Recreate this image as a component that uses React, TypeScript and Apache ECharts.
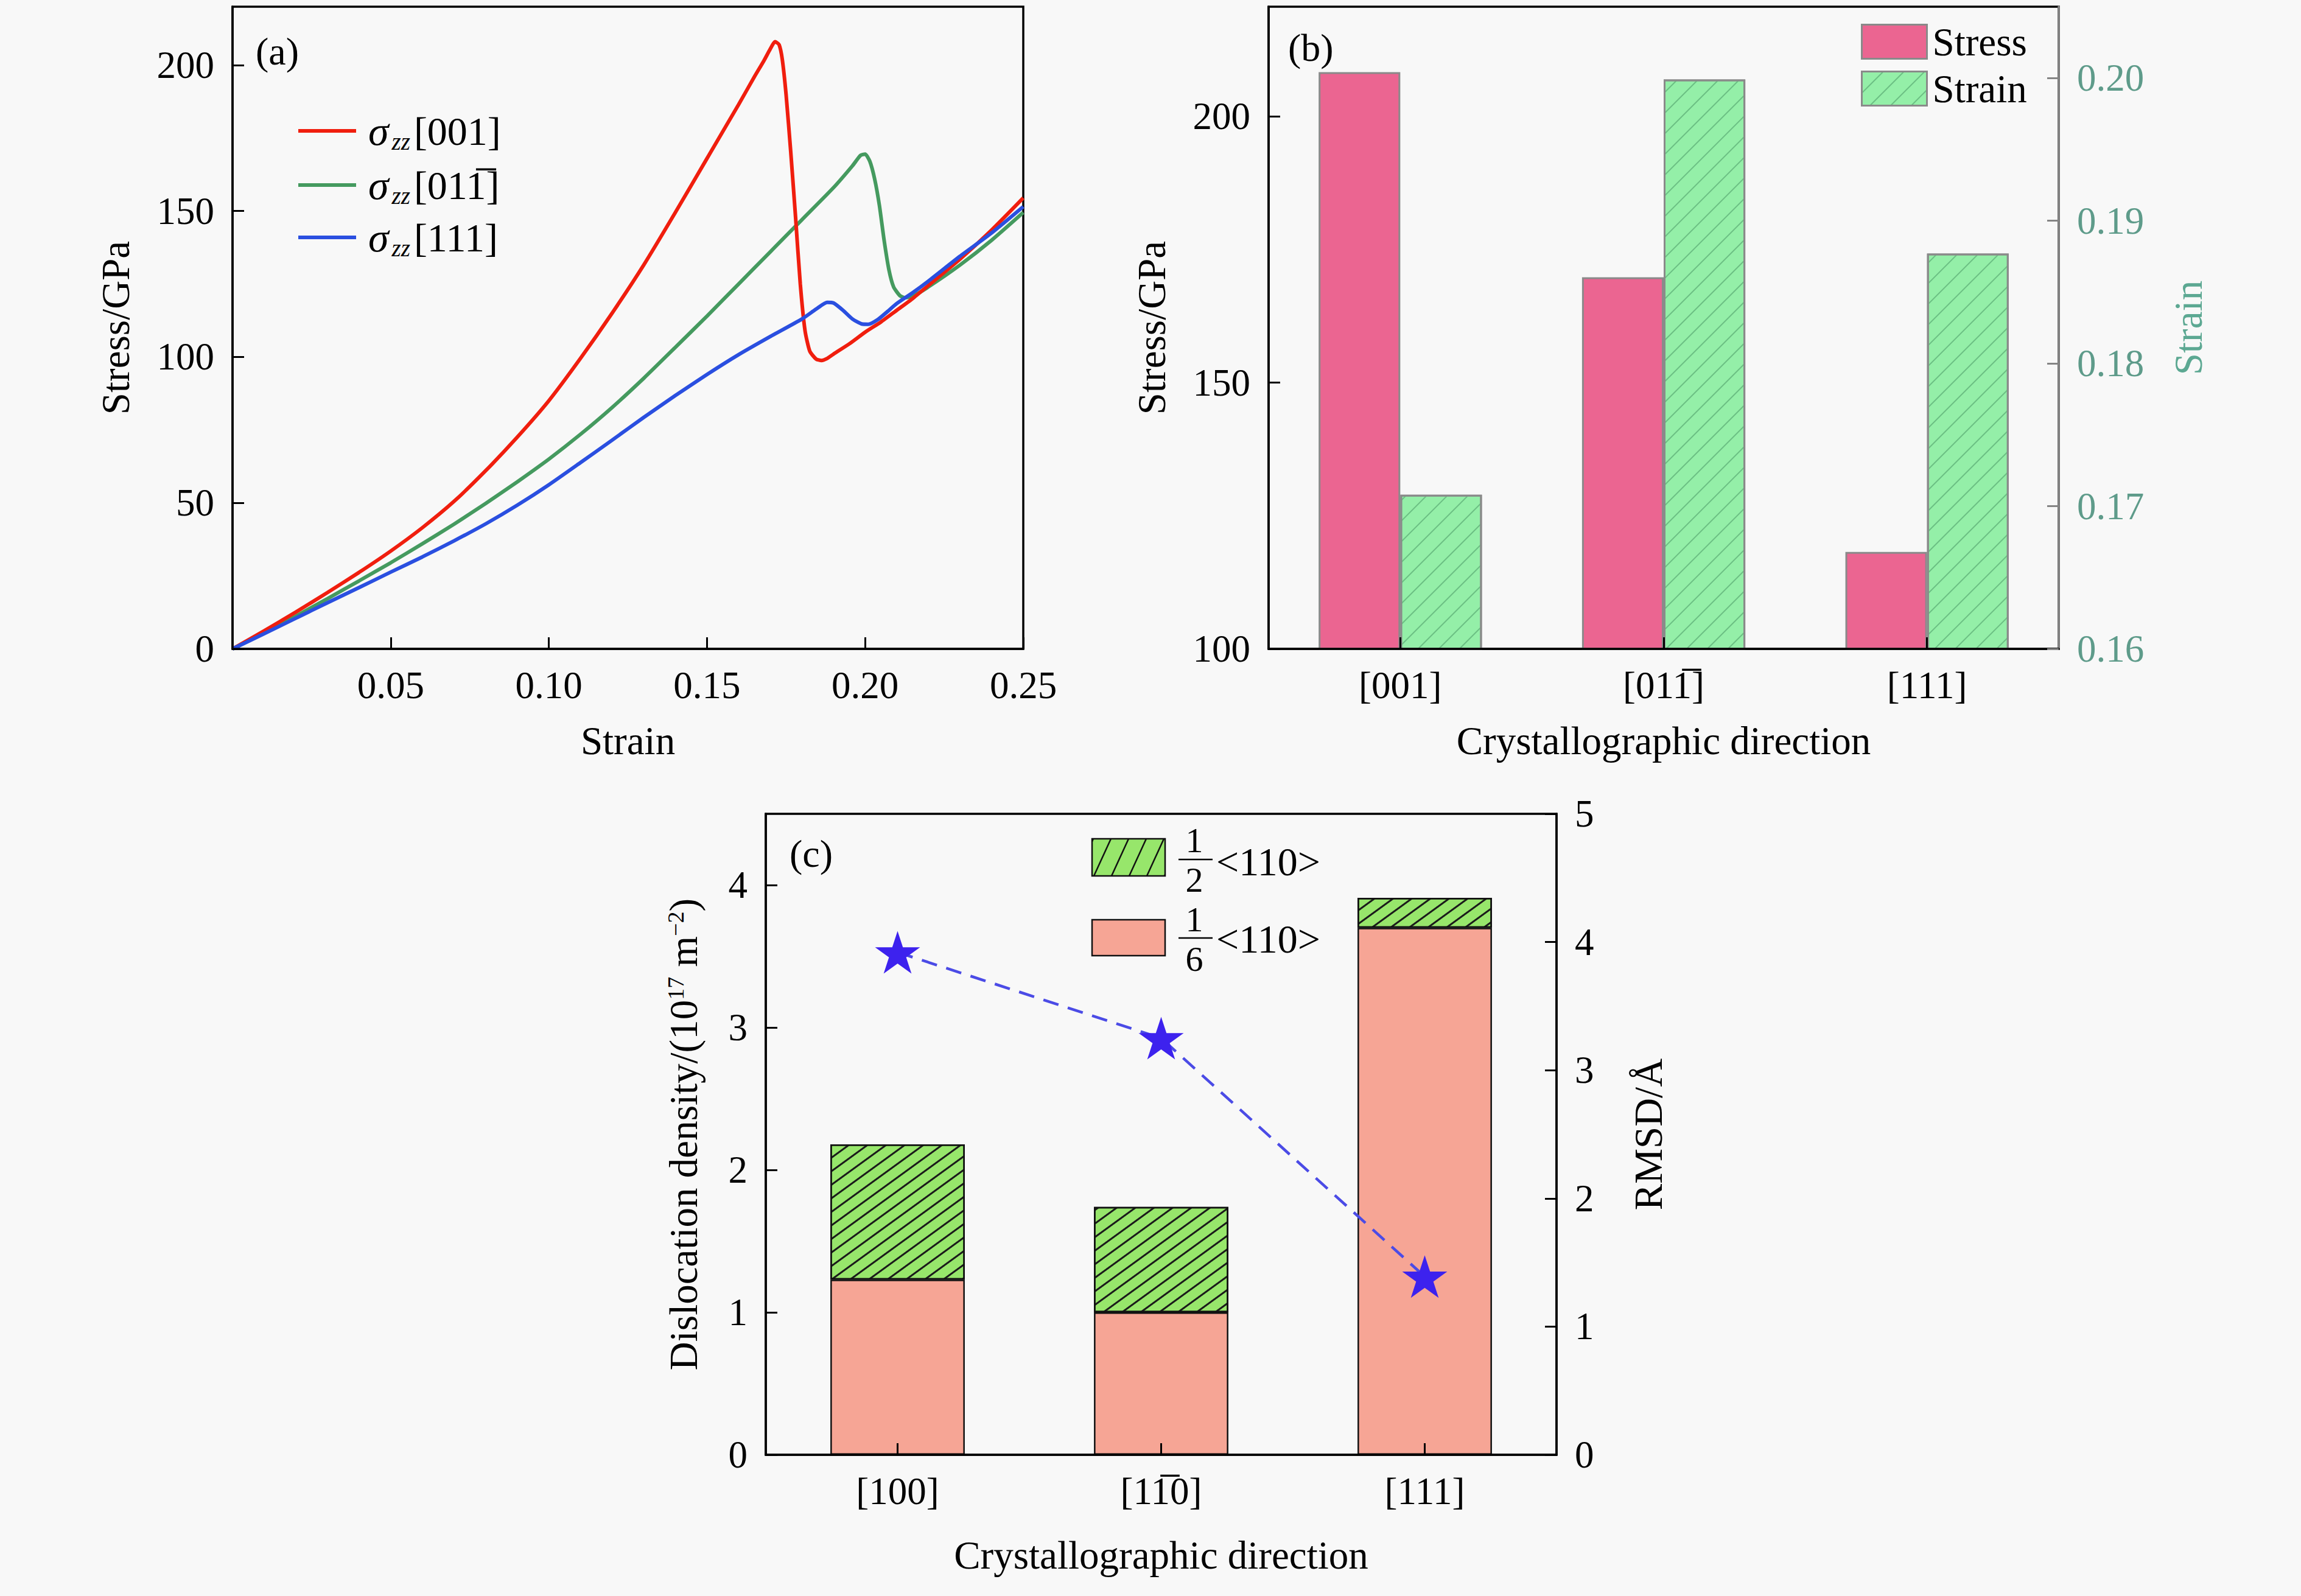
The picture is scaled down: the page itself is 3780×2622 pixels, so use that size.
import React, { useEffect, useRef } from "react";
import * as echarts from "echarts";

// ---------- Panel (a): stress-strain curves ----------
const curve001: [number, number][] = [
  [0, 0], [0.01, 6.2], [0.02, 12.6], [0.03, 19.3], [0.04, 26.2], [0.05, 33.5],
  [0.06, 41.5], [0.07, 50.5], [0.08, 61], [0.09, 72.5], [0.1, 85], [0.11, 99.5],
  [0.12, 115], [0.13, 131.5], [0.14, 149.5], [0.15, 168], [0.16, 186.5], [0.165, 196],
  [0.168, 201.5], [0.17, 205.5], [0.1715, 208], [0.1728, 207], [0.1738, 202], [0.175, 190],
  [0.1765, 170], [0.178, 148], [0.1795, 125], [0.181, 109], [0.1825, 102], [0.1845, 99.3],
  [0.1862, 98.8], [0.188, 99.5], [0.19, 101], [0.195, 104.5], [0.2, 108.5], [0.205, 112],
  [0.21, 116], [0.215, 120], [0.22, 124.5], [0.23, 133.5], [0.24, 143.5], [0.25, 154.5],
];
const curve011: [number, number][] = [
  [0, 0], [0.01, 5.5], [0.02, 11.2], [0.03, 17.2], [0.04, 23.3], [0.05, 29.5],
  [0.06, 36], [0.07, 42.7], [0.08, 49.8], [0.09, 57.2], [0.1, 65], [0.11, 73.5],
  [0.12, 82.7], [0.13, 92.7], [0.14, 103.3], [0.15, 114], [0.16, 125], [0.17, 136],
  [0.18, 147], [0.19, 158], [0.196, 165.5], [0.1985, 169], [0.2, 169.5], [0.2015, 167],
  [0.203, 161], [0.2045, 152], [0.206, 140], [0.2075, 130], [0.209, 124], [0.211, 121],
  [0.2125, 120.3], [0.215, 120.8], [0.22, 124], [0.23, 131.5], [0.24, 140], [0.25, 149.5],
];
const curve111: [number, number][] = [
  [0, 0], [0.01, 5.2], [0.02, 10.5], [0.03, 15.8], [0.04, 21], [0.05, 26.3],
  [0.06, 31.5], [0.07, 37], [0.08, 42.8], [0.09, 49.2], [0.1, 56.2], [0.11, 63.8],
  [0.12, 71.5], [0.13, 79.3], [0.14, 86.8], [0.15, 94], [0.16, 100.8], [0.17, 107],
  [0.18, 113], [0.185, 116.8], [0.188, 118.7], [0.19, 118.5], [0.193, 116], [0.196, 113],
  [0.199, 111.3], [0.201, 111.2], [0.204, 112.8], [0.207, 115.5], [0.21, 118.3], [0.215, 122],
  [0.22, 126], [0.23, 134.5], [0.24, 142.5], [0.25, 151.5],
];
const curveLabels = ["[001]", "[011\u0305]", "[111]"];
const curveColors = ["#F01E0E", "#459A5F", "#2A4FE0"];

// ---------- Panel (b): peak stress / strain ----------
const dirB = ["[001]", "[011\u0305]", "[111]"];
const stressB = [208.3, 169.8, 118.2];
const strainB = [0.1708, 0.1999, 0.1877];

// ---------- Panel (c): dislocation density / RMSD ----------
const dirC = ["[100]", "[11\u03050]", "[111]"];
const sixthC = [1.23, 1.0, 3.7];
const halfC = [0.95, 0.74, 0.21];
const rmsdC = [3.92, 3.25, 1.39];

const FONT = "'Liberation Serif', 'Times New Roman', serif";
const TICK_FS = 63;
const NAME_FS = 65;
const STAR =
  "path://M0,-10L2.245,-3.09L9.51,-3.09L3.633,1.18L5.88,8.09L0,3.82L-5.88,8.09L-3.633,1.18L-9.51,-3.09L-2.245,-3.09Z";

function hatchLines(x: number, y: number, w: number, h: number, dx: number, step: number, phase: number, stroke: string, lw: number) {
  const out: any[] = [];
  const slope = -h / dx;
  for (let xb = phase - step * 10; xb < x + w; xb += step) {
    let x1 = xb, y1 = y + h, x2 = xb + dx, y2 = y;
    if (x1 < x) { y1 = y1 + (x - x1) * slope; x1 = x; }
    if (x2 > x + w) { y2 = y2 - (x2 - (x + w)) * slope; x2 = x + w; }
    if (x2 <= x1 || y1 <= y2) continue;
    out.push({ type: "line", silent: true, z: 20, shape: { x1, y1, x2, y2 }, style: { stroke, lineWidth: lw } });
  }
  return out;
}

function buildOption() {
  const axisLineBlack = { show: true, onZero: false, lineStyle: { color: "#000", width: 3.5 } };
  const tickIn = { show: true, inside: true, length: 19, lineStyle: { color: "#000", width: 3 } };
  const lbl = { fontSize: TICK_FS, fontFamily: FONT, color: "#000", margin: 28 };
  const nameStyle = { fontSize: NAME_FS, fontFamily: FONT, color: "#000" };
  const f66 = `66px ${FONT}`;
  const f58 = `58px ${FONT}`;

  const legendA: any[] = [];
  const rowsY = [215, 304, 390];
  curveLabels.forEach((lab, i) => {
    legendA.push({
      type: "line", z: 20, shape: { x1: 490, y1: rowsY[i], x2: 585, y2: rowsY[i] },
      style: { stroke: curveColors[i], lineWidth: 6 },
    });
    legendA.push({
      type: "text", z: 20, x: 605, y: rowsY[i],
      style: {
        text: "{s|\u03c3}{sub|zz}{n|" + lab + "}",
        verticalAlign: "middle",
        fill: "#000",
        rich: {
          s: { fontSize: 68, fontStyle: "italic", fontFamily: FONT, fill: "#000" },
          sub: { fontSize: 39, fontStyle: "italic", fontFamily: FONT, fill: "#000", padding: [34, 6, 0, 5] },
          n: { fontSize: 66, fontFamily: FONT, fill: "#000" },
        },
      },
    });
  });

  const legendC: any[] = [
    { type: "rect", z: 19, shape: { x: 1794, y: 1378, width: 120, height: 61 }, style: { fill: "#97E66B", stroke: "#111", lineWidth: 2.5 } },
    ...hatchLines(1794, 1378, 120, 61, 28, 29, 1797, "#111", 2.5),
    { type: "rect", z: 19, shape: { x: 1794, y: 1511, width: 120, height: 59 }, style: { fill: "#F6A595", stroke: "#111", lineWidth: 2.5 } },
    { type: "text", z: 20, x: 1962, y: 1380, style: { text: "1", font: f58, fill: "#000", align: "center", verticalAlign: "middle" } },
    { type: "line", z: 20, shape: { x1: 1936, y1: 1412, x2: 1992, y2: 1412 }, style: { stroke: "#000", lineWidth: 2.5 } },
    { type: "text", z: 20, x: 1962, y: 1445, style: { text: "2", font: f58, fill: "#000", align: "center", verticalAlign: "middle" } },
    { type: "text", z: 20, x: 1998, y: 1415, style: { text: "<110>", font: f66, fill: "#000", align: "left", verticalAlign: "middle" } },
    { type: "text", z: 20, x: 1962, y: 1510, style: { text: "1", font: f58, fill: "#000", align: "center", verticalAlign: "middle" } },
    { type: "line", z: 20, shape: { x1: 1936, y1: 1541, x2: 1992, y2: 1541 }, style: { stroke: "#000", lineWidth: 2.5 } },
    { type: "text", z: 20, x: 1962, y: 1575, style: { text: "6", font: f58, fill: "#000", align: "center", verticalAlign: "middle" } },
    { type: "text", z: 20, x: 1998, y: 1542, style: { text: "<110>", font: f66, fill: "#000", align: "left", verticalAlign: "middle" } },
  ];

  const panelLabels: any[] = [
    { type: "text", z: 20, x: 420, y: 84, style: { text: "(a)", font: `64px ${FONT}`, fill: "#000", verticalAlign: "middle" } },
    { type: "text", z: 20, x: 2116, y: 78, style: { text: "(b)", font: `64px ${FONT}`, fill: "#000", verticalAlign: "middle" } },
    { type: "text", z: 20, x: 1297, y: 1402, style: { text: "(c)", font: `64px ${FONT}`, fill: "#000", verticalAlign: "middle" } },
  ];

  return {
    animation: false,
    backgroundColor: "#f8f8f8",
    textStyle: { fontFamily: FONT },
    grid: [
      { left: 382, top: 11, width: 1299, height: 1055, show: true, borderColor: "#000", borderWidth: 3.5, backgroundColor: "transparent", outerBoundsMode: "none" },
      { left: 2084, top: 11, width: 1298, height: 1055, show: true, borderColor: "#000", borderWidth: 3.5, backgroundColor: "transparent", outerBoundsMode: "none" },
      { left: 1258, top: 1337, width: 1299, height: 1053, show: true, borderColor: "#000", borderWidth: 3.5, backgroundColor: "transparent", outerBoundsMode: "none" },
    ],
    legend: {
      data: ["Stress", "Strain"],
      orient: "vertical",
      left: 3052,
      top: 31,
      itemWidth: 107,
      itemHeight: 56,
      itemGap: 12,
      selectedMode: false,
      icon: "rect",
      itemStyle: { borderColor: "#8a8a8a", borderWidth: 3 },
      textStyle: { fontSize: NAME_FS, fontFamily: FONT, color: "#000", padding: [0, 0, 0, 4] },
    },
    xAxis: [
      {
        type: "value", gridIndex: 0, min: 0, max: 0.25, interval: 0.05, z: 10,
        axisLine: axisLineBlack, axisTick: tickIn, splitLine: { show: false },
        axisLabel: { ...lbl, showMinLabel: false, formatter: (v: number) => v.toFixed(2) },
        name: "Strain", nameLocation: "middle", nameGap: 118, nameTextStyle: nameStyle,
      },
      {
        type: "category", gridIndex: 1, data: dirB, z: 10,
        axisLine: axisLineBlack, axisTick: { ...tickIn, alignWithLabel: true }, splitLine: { show: false },
        axisLabel: { ...lbl },
        name: "Crystallographic direction", nameLocation: "middle", nameGap: 118, nameTextStyle: nameStyle,
      },
      {
        type: "category", gridIndex: 2, data: dirC, z: 10,
        axisLine: axisLineBlack, axisTick: { ...tickIn, alignWithLabel: true }, splitLine: { show: false },
        axisLabel: { ...lbl },
        name: "Crystallographic direction", nameLocation: "middle", nameGap: 132, nameTextStyle: nameStyle,
      },
    ],
    yAxis: [
      {
        type: "value", gridIndex: 0, min: 0, max: 220, interval: 50, z: 10,
        axisLine: axisLineBlack, axisTick: tickIn, splitLine: { show: false },
        axisLabel: { ...lbl, margin: 30, showMaxLabel: false },
        name: "Stress/GPa", nameLocation: "middle", nameGap: 160, nameTextStyle: nameStyle,
      },
      {
        type: "value", gridIndex: 1, min: 100, max: 220.6, interval: 50, z: 10,
        axisLine: axisLineBlack, axisTick: tickIn, splitLine: { show: false },
        axisLabel: { ...lbl, margin: 30, showMaxLabel: false },
        name: "Stress/GPa", nameLocation: "middle", nameGap: 160, nameTextStyle: nameStyle,
      },
      {
        type: "value", gridIndex: 1, position: "right", min: 0.16, max: 0.205, interval: 0.01, z: 10,
        axisLine: { show: true, onZero: false, lineStyle: { color: "#858585", width: 3.5 } },
        axisTick: { show: true, inside: true, length: 19, lineStyle: { color: "#858585", width: 3 } },
        splitLine: { show: false },
        axisLabel: { ...lbl, color: "#5E9B8A", margin: 30, showMaxLabel: false, formatter: (v: number) => v.toFixed(2) },
        name: "Strain", nameLocation: "middle", nameGap: 180, nameTextStyle: { ...nameStyle, color: "#5CA892" },
      },
      {
        type: "value", gridIndex: 2, min: 0, max: 4.5, interval: 1, z: 10,
        axisLine: axisLineBlack, axisTick: tickIn, splitLine: { show: false },
        axisLabel: { ...lbl, margin: 30, showMaxLabel: false },
        name: "Dislocation density/(10{sup|17} m{sup|\u22122})", nameLocation: "middle", nameGap: 103,
        nameTextStyle: { ...nameStyle, rich: { sup: { fontSize: 38, fontFamily: FONT, color: "#000", padding: [0, 0, 26, 0] } } },
      },
      {
        type: "value", gridIndex: 2, position: "right", min: 0, max: 5, interval: 1, z: 10,
        axisLine: axisLineBlack, axisTick: tickIn, splitLine: { show: false },
        axisLabel: { ...lbl, margin: 30 },
        name: "RMSD/\u00c5", nameLocation: "middle", nameGap: 118, nameTextStyle: nameStyle,
      },
    ],
    series: [
      { type: "line", name: "s001", xAxisIndex: 0, yAxisIndex: 0, data: curve001, showSymbol: false, smooth: 0.2, lineStyle: { color: curveColors[0], width: 6 }, z: 4 },
      { type: "line", name: "s011", xAxisIndex: 0, yAxisIndex: 0, data: curve011, showSymbol: false, smooth: 0.2, lineStyle: { color: curveColors[1], width: 6 }, z: 3 },
      { type: "line", name: "s111", xAxisIndex: 0, yAxisIndex: 0, data: curve111, showSymbol: false, smooth: 0.2, lineStyle: { color: curveColors[2], width: 6 }, z: 5 },
      {
        type: "bar", name: "Stress", xAxisIndex: 1, yAxisIndex: 1, data: stressB, barWidth: "31%", barGap: "0%",
        itemStyle: { color: "#EB6591", borderColor: "#8a8a8a", borderWidth: 3 },
      },
      {
        type: "bar", name: "Strain", xAxisIndex: 1, yAxisIndex: 2, data: strainB, barWidth: "31%", barGap: "0%",
        itemStyle: {
          color: "#94EFA8", borderColor: "#8a8a8a", borderWidth: 3,
          decal: { symbol: "rect", symbolSize: 1, dashArrayX: [1, 0], dashArrayY: [2, 22], rotation: -Math.PI / 4, color: "#6BBF83" },
        },
      },
      {
        type: "bar", name: "1/6<110>", xAxisIndex: 2, yAxisIndex: 3, stack: "c", data: sixthC, barWidth: "51%",
        itemStyle: { color: "#F6A595", borderColor: "#111", borderWidth: 2.5 },
      },
      {
        type: "bar", name: "1/2<110>", xAxisIndex: 2, yAxisIndex: 3, stack: "c", data: halfC, barWidth: "51%",
        itemStyle: {
          color: "#97E66B", borderColor: "#111", borderWidth: 2.5,
          decal: { symbol: "rect", symbolSize: 1, dashArrayX: [1, 0], dashArrayY: [2.5, 15], rotation: -Math.PI / 5, color: "#1a1a1a" },
        },
      },
      {
        type: "line", name: "RMSD", xAxisIndex: 2, yAxisIndex: 4, data: rmsdC, z: 6,
        symbol: STAR, symbolSize: [74, 70], showSymbol: true,
        itemStyle: { color: "#3D22EE" },
        lineStyle: { color: "#4B4BE6", width: 4.5, type: [26, 16] },
      },
    ],
    graphic: [...panelLabels, ...legendA, ...legendC],
  };
}

export default function App() {
  const ref = useRef<HTMLDivElement>(null);
  useEffect(() => {
    document.body.style.margin = "0";
    if (!ref.current) return;
    const chart = echarts.init(ref.current, undefined, { renderer: "svg" });
    chart.setOption(buildOption() as any);
    return () => chart.dispose();
  }, []);
  return <div ref={ref} style={{ width: 3780, height: 2622 }} />;
}
